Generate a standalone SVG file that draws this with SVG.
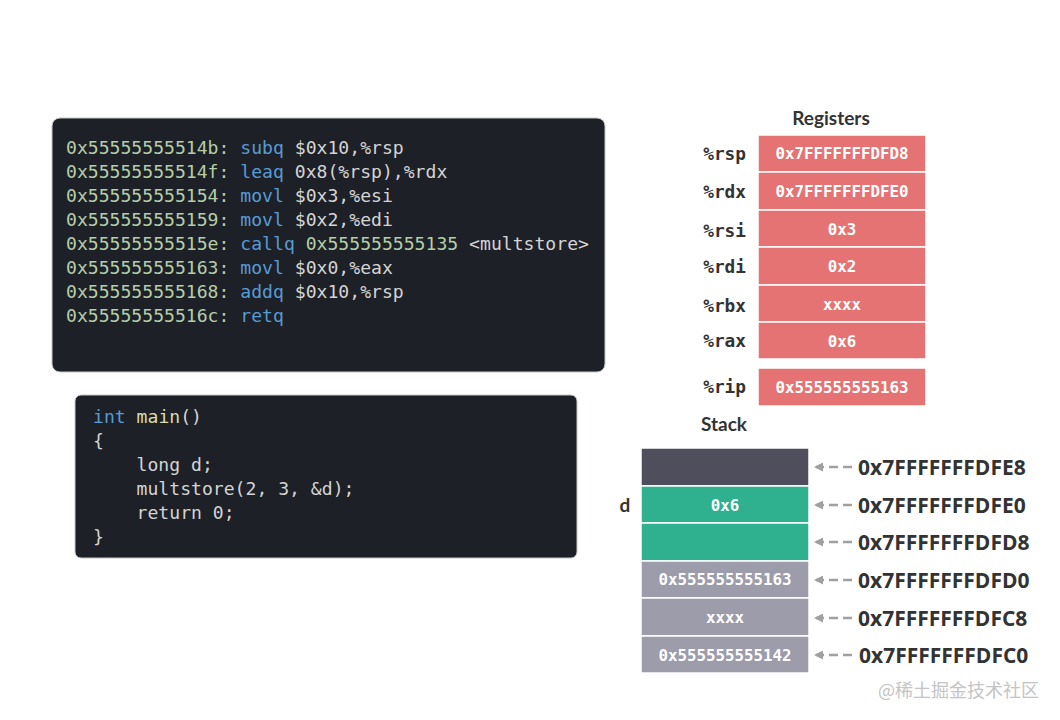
<svg xmlns="http://www.w3.org/2000/svg" width="1060" height="720" viewBox="0 0 1060 720">
<style>
.code{font-family:"DejaVu Sans Mono","Liberation Mono",monospace;font-size:18.1px;fill:#d4d4d4}
.ad{fill:#b5cea8}.kw{fill:#569cd6}.fn{fill:#dcdcaa}
.panel{fill:#1e2028;stroke:#c8c8c8;stroke-width:1}
.reg{fill:#e57373;stroke:#ffffff;stroke-width:1.5}
.rl{font-family:"DejaVu Sans Mono","Liberation Mono",monospace;font-weight:bold;font-size:17.8px;fill:#333333;text-anchor:end}
.rv{font-family:"DejaVu Sans Mono","Liberation Mono",monospace;font-weight:bold;font-size:15.8px;fill:#ffffff;text-anchor:middle}
.title{font-family:Lato,"Open Sans",sans-serif;font-weight:bold;font-size:19px;fill:#333333;text-anchor:middle}
.addr{font-family:"Open Sans",Lato,sans-serif;font-weight:bold;font-size:21px;fill:#333333}
.s1{fill:#4f4e5c;stroke:#ffffff;stroke-width:1.5}
.s2{fill:#2fb08f;stroke:#ffffff;stroke-width:1.5}
.s3{fill:#9d9cab;stroke:#ffffff;stroke-width:1.5}
.arr{stroke:#a0a0a0;stroke-width:2.5;stroke-dasharray:9,5;fill:none}
</style>
<defs>
<marker id="ah" markerWidth="9" markerHeight="9" refX="7" refY="4.5" orient="auto" markerUnits="userSpaceOnUse">
<path d="M0,0 L9,4.5 L0,9 Z" fill="#a0a0a0"/>
</marker>
</defs>
<rect width="1060" height="720" fill="#ffffff"/>

<g id="asm">
<rect class="panel" x="52" y="118" width="553" height="254" rx="8"/>
<text class="code" x="66" y="154"><tspan class="ad">0x55555555514b:</tspan> <tspan class="kw">subq</tspan> $0x10,%rsp</text>
<text class="code" x="66" y="178"><tspan class="ad">0x55555555514f:</tspan> <tspan class="kw">leaq</tspan> 0x8(%rsp),%rdx</text>
<text class="code" x="66" y="202"><tspan class="ad">0x555555555154:</tspan> <tspan class="kw">movl</tspan> $0x3,%esi</text>
<text class="code" x="66" y="226"><tspan class="ad">0x555555555159:</tspan> <tspan class="kw">movl</tspan> $0x2,%edi</text>
<text class="code" x="66" y="250"><tspan class="ad">0x55555555515e:</tspan> <tspan class="kw">callq</tspan> <tspan class="ad">0x555555555135</tspan> &lt;multstore&gt;</text>
<text class="code" x="66" y="274"><tspan class="ad">0x555555555163:</tspan> <tspan class="kw">movl</tspan> $0x0,%eax</text>
<text class="code" x="66" y="298"><tspan class="ad">0x555555555168:</tspan> <tspan class="kw">addq</tspan> $0x10,%rsp</text>
<text class="code" x="66" y="322"><tspan class="ad">0x55555555516c:</tspan> <tspan class="kw">retq</tspan></text>
</g>

<g id="csrc">
<rect class="panel" x="75" y="395" width="502" height="163" rx="6"/>
<text class="code" x="93" y="423"><tspan class="kw">int</tspan> <tspan class="fn">main</tspan>()</text>
<text class="code" x="93" y="447">{</text>
<text class="code" x="93" y="471" xml:space="preserve">    long d;</text>
<text class="code" x="93" y="495" xml:space="preserve">    multstore(2, 3, &amp;d);</text>
<text class="code" x="93" y="519" xml:space="preserve">    return 0;</text>
<text class="code" x="93" y="543">}</text>
</g>

<g id="registers">
<text class="title" x="831" y="125">Registers</text>
<rect class="reg" x="758" y="135" width="168" height="37"/>
<rect class="reg" x="758" y="172" width="168" height="38"/>
<rect class="reg" x="758" y="210" width="168" height="37"/>
<rect class="reg" x="758" y="247" width="168" height="38"/>
<rect class="reg" x="758" y="285" width="168" height="37"/>
<rect class="reg" x="758" y="322" width="168" height="37"/>
<rect class="reg" x="758" y="368" width="168" height="38"/>
<text class="rl" x="746" y="160">%rsp</text>
<text class="rl" x="746" y="198">%rdx</text>
<text class="rl" x="746" y="237">%rsi</text>
<text class="rl" x="746" y="273">%rdi</text>
<text class="rl" x="746" y="312">%rbx</text>
<text class="rl" x="746" y="347">%rax</text>
<text class="rl" x="746" y="393">%rip</text>
<text class="rv" x="842" y="159">0x7FFFFFFFDFD8</text>
<text class="rv" x="842" y="197">0x7FFFFFFFDFE0</text>
<text class="rv" x="842" y="235">0x3</text>
<text class="rv" x="842" y="272">0x2</text>
<text class="rv" x="842" y="310">xxxx</text>
<text class="rv" x="842" y="347">0x6</text>
<text class="rv" x="842" y="393">0x555555555163</text>
</g>

<g id="stack">
<text class="title" x="724" y="431">Stack</text>
<rect class="s1" x="641" y="448" width="168" height="38"/>
<rect class="s2" x="641" y="486" width="168" height="37"/>
<rect class="s2" x="641" y="523" width="168" height="38"/>
<rect class="s3" x="641" y="561" width="168" height="37"/>
<rect class="s3" x="641" y="598" width="168" height="38"/>
<rect class="s3" x="641" y="636" width="168" height="37"/>
<text class="rv" x="725" y="511">0x6</text>
<text class="rv" x="725" y="585">0x555555555163</text>
<text class="rv" x="725" y="623">xxxx</text>
<text class="rv" x="725" y="661">0x555555555142</text>
<text class="title" x="625" y="512" font-size="20">d</text>
</g>

<g id="connectors">
<line class="arr" x1="852" y1="467" x2="816" y2="467" marker-end="url(#ah)"/>
<line class="arr" x1="852" y1="505" x2="816" y2="505" marker-end="url(#ah)"/>
<line class="arr" x1="852" y1="542" x2="816" y2="542" marker-end="url(#ah)"/>
<line class="arr" x1="852" y1="580" x2="816" y2="580" marker-end="url(#ah)"/>
<line class="arr" x1="852" y1="618" x2="816" y2="618" marker-end="url(#ah)"/>
<line class="arr" x1="852" y1="655" x2="816" y2="655" marker-end="url(#ah)"/>
</g>

<g id="addresses">
<text class="addr" x="858" y="475">0x7FFFFFFFDFE8</text>
<text class="addr" x="858" y="513">0x7FFFFFFFDFE0</text>
<text class="addr" x="858" y="550">0x7FFFFFFFDFD8</text>
<text class="addr" x="858" y="588">0x7FFFFFFFDFD0</text>
<text class="addr" x="858" y="626">0x7FFFFFFFDFC8</text>
<text class="addr" x="859" y="663">0x7FFFFFFFDFC0</text>
</g>

<text x="878" y="697" font-family="'Noto Sans CJK SC',sans-serif" font-size="18" fill="#c4c4c4">@稀土掘金技术社区</text>
</svg>
